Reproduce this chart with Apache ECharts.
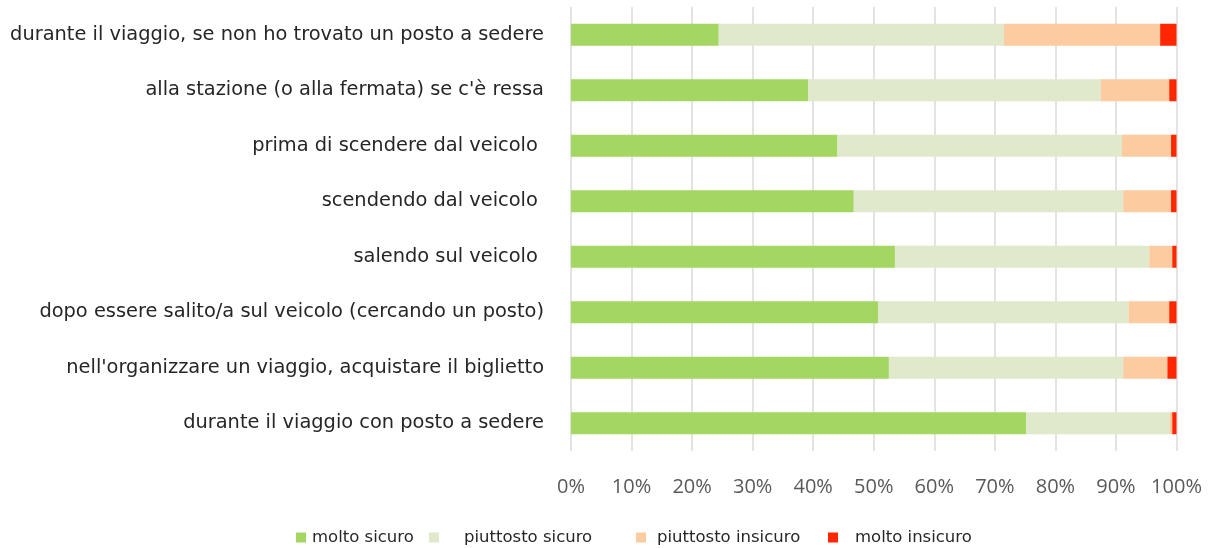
<!DOCTYPE html>
<html>
<head>
<meta charset="utf-8">
<script src="https://cdn.jsdelivr.net/npm/echarts@6/dist/echarts.min.js"></script>
<style>
html,body{margin:0;padding:0;background:#fff;}
#c{width:1215px;height:548px;}
</style>
</head>
<body>
<div id="c"></div>
<script>
// categories listed bottom to top
const categories = [
  "durante il viaggio con posto a sedere",
  "nell'organizzare un viaggio, acquistare il biglietto",
  "dopo essere salito/a sul veicolo (cercando un posto)",
  "salendo sul veicolo ",
  "scendendo dal veicolo ",
  "prima di scendere dal veicolo ",
  "alla stazione (o alla fermata) se c'è ressa",
  "durante il viaggio, se non ho trovato un posto a sedere"
];
const seriesNames = ["molto sicuro", "piuttosto sicuro", "piuttosto insicuro", "molto insicuro"];
const moltoSicuro       = [75.2, 52.5, 50.7, 53.5, 46.7, 44.0, 39.2, 24.4];
const piuttostoSicuro   = [23.7, 38.7, 41.4, 42.0, 44.5, 47.0, 48.3, 47.1];
const piuttostoInsicuro = [0.4, 7.3, 6.7, 3.8, 7.9, 8.1, 11.3, 25.8];
const moltoInsicuro     = [0.7, 1.5, 1.2, 0.7, 0.9, 0.9, 1.2, 2.7];
const xTicks = [0, 10, 20, 30, 40, 50, 60, 70, 80, 90, 100];

const colors = ["#a3d762", "#e0e9cc", "#fccba0", "#ff2600"];
const values = [moltoSicuro, piuttostoSicuro, piuttostoInsicuro, moltoInsicuro];

const chart = echarts.init(document.getElementById('c'));
const legendPos = [
  {left: 296, pad: 1},
  {left: 429, pad: 20},
  {left: 636, pad: 6},
  {left: 828, pad: 12}
];
chart.setOption({
  animation: false,
  backgroundColor: '#ffffff',
  grid: {left: 571, right: 38.5, top: 7, bottom: 97},
  legend: seriesNames.map((n, i) => ({
    data: [n],
    left: legendPos[i].left,
    top: 529,
    padding: 0,
    itemWidth: 10,
    itemHeight: 10,
    itemGap: 0,
    icon: 'rect',
    textStyle: {fontFamily: 'DejaVu Sans', fontSize: 16.5, color: '#262626', padding: [0, 0, 0, legendPos[i].pad]}
  })),
  xAxis: {
    type: 'value',
    min: 0,
    max: 100,
    interval: 10,
    axisLine: {show: false},
    axisTick: {show: false},
    splitLine: {show: true, lineStyle: {color: '#e3e3e3', width: 2}},
    axisLabel: {
      margin: 26,
      fontFamily: 'Open Sans',
      fontSize: 20,
      color: '#595959',
      formatter: v => xTicks.includes(v) ? v + '%' : ''
    }
  },
  yAxis: {
    type: 'category',
    data: categories,
    axisLine: {show: false},
    axisTick: {show: false},
    axisLabel: {
      margin: 27,
      fontFamily: 'DejaVu Sans',
      fontSize: 19.4,
      color: '#262626'
    }
  },
  series: seriesNames.map((n, i) => ({
    name: n,
    type: 'bar',
    stack: 'total',
    barWidth: 22,
    itemStyle: {color: colors[i]},
    data: values[i]
  }))
});
</script>
</body>
</html>
